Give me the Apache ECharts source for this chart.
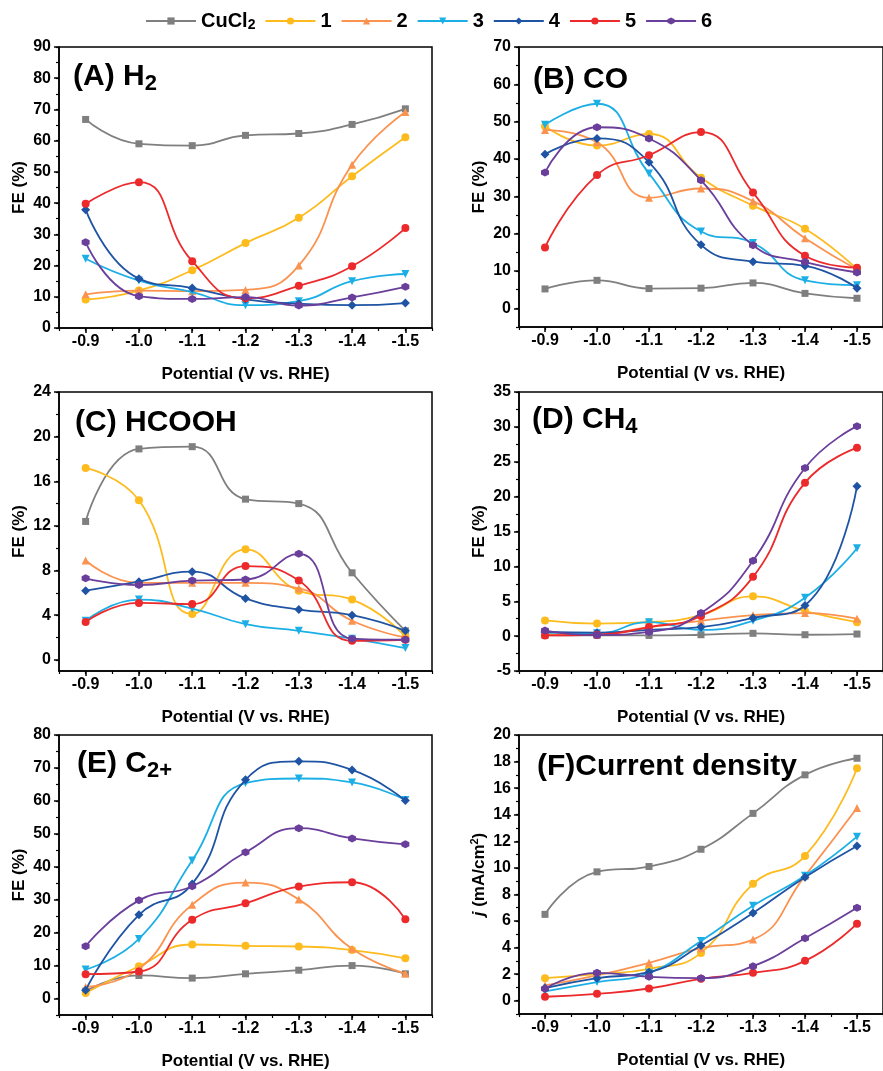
<!DOCTYPE html>
<html>
<head>
<meta charset="utf-8">
<script src="https://cdn.jsdelivr.net/npm/echarts@6/dist/echarts.min.js"></script>
<style>html,body{margin:0;padding:0;background:#fff}#c{width:883px;height:1071px}</style>
</head>
<body>
<div id="c"></div>
<script>
// ---------- data ----------
const potentials = [-0.9, -1.0, -1.1, -1.2, -1.3, -1.4, -1.5];
const seriesNames = ['CuCl2', '1', '2', '3', '4', '5', '6'];
const xTickLabels = [-0.9, -1.0, -1.1, -1.2, -1.3, -1.4, -1.5];

// rows follow seriesNames order: CuCl2, 1, 2, 3, 4, 5, 6
const feH2 = [
  [66.8, 59.0, 58.4, 61.7, 62.3, 65.2, 70.2],
  [9.1, 12.0, 18.5, 27.2, 35.3, 48.6, 61.1],
  [10.8, 12.0, 11.8, 12.2, 20.0, 52.3, 69.2],
  [22.2, 15.2, 11.5, 7.3, 8.6, 15.0, 17.3],
  [37.9, 15.8, 12.8, 9.2, 7.8, 7.3, 8.0],
  [39.8, 46.7, 21.4, 9.5, 13.5, 19.8, 32.0],
  [27.5, 10.2, 9.3, 9.9, 7.2, 9.8, 13.2]
];
const feCO = [
  [5.2, 7.5, 5.3, 5.4, 6.8, 4.0, 2.7],
  [48.8, 43.6, 46.7, 35.0, 27.5, 21.3, 10.5],
  [47.8, 44.5, 29.6, 32.1, 28.7, 18.8, 10.4],
  [49.2, 54.8, 36.1, 20.6, 17.5, 7.5, 6.2],
  [41.3, 45.5, 39.1, 17.0, 12.5, 11.4, 5.4],
  [16.3, 35.7, 41.0, 47.2, 31.0, 14.1, 10.9],
  [36.4, 48.5, 45.5, 34.3, 16.9, 12.4, 9.6]
];
const feHCOOH = [
  [12.4, 18.9, 19.1, 14.4, 14.0, 7.8, 2.6],
  [17.2, 14.3, 4.1, 9.9, 6.2, 5.4, 2.1],
  [8.9, 6.9, 6.9, 6.9, 6.4, 3.5, 2.0],
  [3.5, 5.4, 4.6, 3.2, 2.6, 1.9, 1.05],
  [6.2, 7.0, 7.9, 5.5, 4.5, 4.0, 2.6],
  [3.4, 5.1, 5.0, 8.4, 7.1, 1.7, 1.8],
  [7.3, 6.7, 7.1, 7.2, 9.5, 1.9, 1.8]
];
const feCH4 = [
  [0.1, 0.1, 0.1, 0.2, 0.4, 0.2, 0.3],
  [2.25, 1.8, 2.0, 3.0, 5.7, 3.6, 2.0],
  [0.3, 0.3, 1.3, 2.2, 3.0, 3.3, 2.5],
  [0.5, 0.4, 2.0, 0.9, 2.2, 5.5, 12.6],
  [0.6, 0.5, 0.9, 1.3, 2.6, 4.4, 21.5],
  [0.1, 0.2, 1.3, 2.9, 8.5, 22.0, 27.0],
  [0.8, 0.15, 0.6, 3.3, 10.8, 24.1, 30.1]
];
const feC2 = [
  [2.2, 7.0, 6.2, 7.5, 8.6, 10.0, 7.5],
  [1.7, 9.8, 16.4, 16.0, 15.8, 14.7, 12.2],
  [3.5, 9.0, 28.5, 35.2, 30.1, 15.1, 7.6],
  [8.8, 18.1, 41.9, 65.4, 66.8, 65.6, 60.3],
  [2.5, 25.4, 34.8, 66.4, 72.0, 69.4, 60.1],
  [7.4, 8.2, 23.9, 28.9, 34.0, 35.3, 24.1],
  [15.9, 29.8, 34.1, 44.4, 51.7, 48.6, 46.8]
];
const currentJ = [
  [6.5, 9.7, 10.1, 11.4, 14.1, 17.0, 18.25],
  [1.7, 2.0, 2.4, 3.6, 8.8, 10.9, 17.5],
  [1.15, 1.9, 2.85, 3.95, 4.6, 9.4, 14.5],
  [0.7, 1.4, 2.1, 4.5, 7.15, 9.4, 12.35],
  [0.95, 1.7, 2.15, 4.15, 6.6, 9.3, 11.65],
  [0.3, 0.52, 0.92, 1.65, 2.1, 3.0, 5.8],
  [0.9, 2.1, 1.8, 1.7, 2.6, 4.7, 7.0]
];

// ---------- styling ----------
const FONT = '"Liberation Sans", Arial, sans-serif';
const colors = ['#7F7F7F', '#FDBB1E', '#FB9350', '#1CAFE6', '#1F54A4', '#EC2A2C', '#6A3E9B'];
const symbols = [
  'rect', 'circle', 'triangle',
  'path://M0,0 L10,0 L5,9 Z',
  'diamond', 'circle',
  'path://M5,0 L9.33,2.5 L9.33,7.5 L5,10 L0.67,7.5 L0.67,2.5 Z'
];
const symbolSizes = [7, 8, 8, 8, 9, 8, 8];

function steps(a, b, s) {
  const out = [];
  const n = Math.round((b - a) / s);
  for (let i = 0; i <= n; i++) out.push(+(a + i * s).toFixed(4));
  return out;
}

const panels = [
  { data: feH2, grid: { left: 59, top: 47, width: 373, height: 281 }, y: [0, 90, 0, 90, 10, 5], yname: 'FE (%)', title: '(A) H{s|2}', tx: 73, ty: 62 },
  { data: feCO, grid: { left: 519, top: 47, width: 373, height: 280 }, y: [-5, 70, 0, 70, 10, 5], yname: 'FE (%)', title: '(B) CO', tx: 533, ty: 65 },
  { data: feHCOOH, grid: { left: 59, top: 392, width: 373, height: 279 }, y: [-1, 24, 0, 24, 4, 2], yname: 'FE (%)', title: '(C) HCOOH', tx: 75, ty: 408 },
  { data: feCH4, grid: { left: 519, top: 392, width: 373, height: 279 }, y: [-5, 35, -5, 35, 5, 2.5], yname: 'FE (%)', title: '(D) CH{s|4}', tx: 532, ty: 405 },
  { data: feC2, grid: { left: 59, top: 735, width: 373, height: 280 }, y: [-5, 80, 0, 80, 10, 5], yname: 'FE (%)', title: '(E) C{s|2+}', tx: 77, ty: 749 },
  { data: currentJ, grid: { left: 519, top: 735, width: 373, height: 279 }, y: [-1, 20, 0, 20, 2, 1], yname: '{i|j} (mA/cm{sup|2})', title: '(F)Current density', tx: 537, ty: 752 }
];

const black = '#000';
const grids = [], xAxes = [], yAxes = [], series = [], titles = [];
const xMinors = steps(-1.55, -0.85, 0.05);

panels.forEach((p, i) => {
  grids.push(Object.assign({ show: true, borderColor: black, borderWidth: 1.5, containLabel: false }, p.grid));
  xAxes.push({
    type: 'value', gridIndex: i, position: 'bottom', min: -1.55, max: -0.85, inverse: true,
    axisLine: { show: true, onZero: false, lineStyle: { color: black, width: 1.5 } },
    axisTick: { show: true, inside: false, length: 5, lineStyle: { color: black, width: 1.5 }, customValues: xTickLabels },
    axisLabel: { show: true, customValues: xTickLabels, formatter: v => Number(v).toFixed(1), color: black, fontSize: 16, fontWeight: 'bold', fontFamily: FONT, margin: 6 },
    splitLine: { show: false },
    name: 'Potential (V vs. RHE)', nameLocation: 'middle', nameGap: 38,
    nameTextStyle: { color: black, fontSize: 17, fontWeight: 'bold', fontFamily: FONT }
  });
  xAxes.push({
    type: 'value', gridIndex: i, position: 'bottom', min: -1.55, max: -0.85, inverse: true,
    axisLine: { show: false, onZero: false },
    axisTick: { show: true, inside: false, length: 3, lineStyle: { color: black, width: 1.2 }, customValues: xMinors },
    axisLabel: { show: false }, splitLine: { show: false }
  });
  const [ymin, ymax, ma, mb, mstep, minorStep] = p.y;
  const yMajors = steps(ma, mb, mstep);
  const yMinors = steps(Math.ceil(ymin / minorStep) * minorStep, ymax, minorStep);
  yAxes.push({
    type: 'value', gridIndex: i, position: 'left', min: ymin, max: ymax,
    axisLine: { show: true, onZero: false, lineStyle: { color: black, width: 1.5 } },
    axisTick: { show: true, inside: false, length: 5, lineStyle: { color: black, width: 1.5 }, customValues: yMajors },
    axisLabel: { show: true, customValues: yMajors, formatter: v => String(Math.round(v)), color: black, fontSize: 16, fontWeight: 'bold', fontFamily: FONT, margin: 8 },
    splitLine: { show: false },
    name: p.yname, nameLocation: 'middle', nameGap: 28,
    nameTextStyle: {
      color: black, fontSize: 17, fontWeight: 'bold', fontFamily: FONT, lineHeight: 20,
      rich: {
        i: { fontStyle: 'italic', fontWeight: 'bold', fontSize: 17, fontFamily: FONT, color: black, lineHeight: 20 },
        sup: { fontSize: 11, fontWeight: 'bold', fontFamily: FONT, color: black, verticalAlign: 'top', lineHeight: 10 }
      }
    }
  });
  yAxes.push({
    type: 'value', gridIndex: i, position: 'left', min: ymin, max: ymax,
    axisLine: { show: false, onZero: false },
    axisTick: { show: true, inside: false, length: 3, lineStyle: { color: black, width: 1.2 }, customValues: yMinors },
    axisLabel: { show: false }, splitLine: { show: false }
  });
  p.data.forEach((vals, k) => {
    series.push({
      type: 'line', name: seriesNames[k], xAxisIndex: 2 * i, yAxisIndex: 2 * i,
      data: potentials.map((x, j) => [x, vals[j]]),
      smooth: 0.5, symbol: symbols[k], symbolSize: symbolSizes[k],
      showSymbol: true, clip: false,
      itemStyle: { color: colors[k] }, lineStyle: { color: colors[k], width: 1.8 },
      emphasis: { disabled: true }, animation: false, z: 2 + k
    });
  });
  titles.push({
    text: p.title, left: p.tx, top: p.ty, padding: 0,
    textStyle: {
      color: black, fontSize: 30, fontWeight: 'bold', fontFamily: FONT, lineHeight: 30,
      rich: { s: { fontSize: 22, fontWeight: 'bold', fontFamily: FONT, color: black, lineHeight: 22, padding: [14, 0, 0, 0] } }
    }
  });
});

const chart = echarts.init(document.getElementById('c'), null, { renderer: 'canvas' });
chart.setOption({
  backgroundColor: '#fff',
  animation: false,
  title: titles,
  legend: {
    data: seriesNames, left: 145, top: 10, padding: 0,
    itemWidth: 50, itemHeight: 9, itemGap: 9,
    formatter: n => n === 'CuCl2' ? 'CuCl{sub|2}' : n,
    textStyle: {
      color: black, fontSize: 20, fontWeight: 'bold', fontFamily: FONT, lineHeight: 22,
      rich: { sub: { fontSize: 14, fontWeight: 'bold', fontFamily: FONT, color: black, lineHeight: 14, padding: [8, 0, 0, 0] } }
    }
  },
  grid: grids, xAxis: xAxes, yAxis: yAxes, series: series
});
</script>
</body>
</html>
